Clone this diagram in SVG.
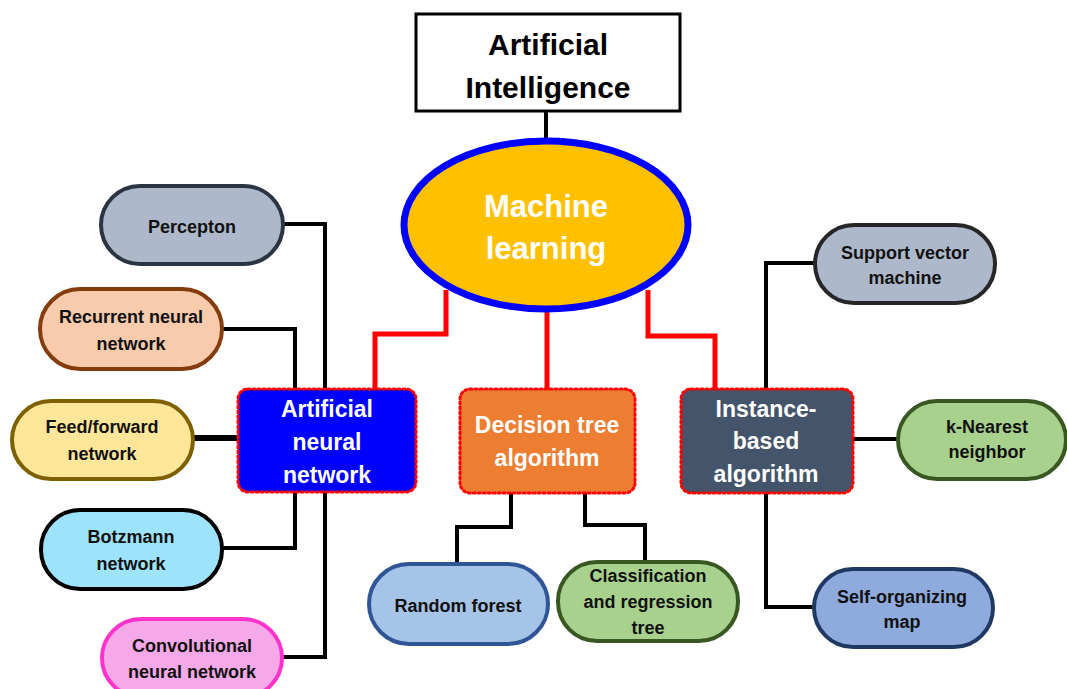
<svg xmlns="http://www.w3.org/2000/svg" width="1067" height="689" viewBox="0 0 1067 689">
<style>
text{font-family:"Liberation Sans",Arial,sans-serif;font-weight:bold;text-anchor:middle}
.leaf{font-size:18px;fill:#111}
.mid{font-size:23px;fill:#fff}
.pill{stroke-width:4}
.box{stroke:#ff0000;stroke-width:3;stroke-dasharray:2 3;stroke-linecap:round}
.blk{fill:none;stroke:#000;stroke-width:4}
.red{fill:none;stroke:#ff0000;stroke-width:5}
</style>
<rect width="1067" height="689" fill="#fff"/>
<g id="connectors">
<line class="blk" x1="546" y1="112" x2="546" y2="142"/>
<polyline class="red" points="446,290 446,334 375,334 375,390"/>
<line class="red" x1="547" y1="310" x2="547" y2="390"/>
<polyline class="red" points="648,290 648,336 715,336 715,390"/>
<polyline class="blk" points="283,224 325,224 325,390"/>
<polyline class="blk" points="222,329 295,329 295,390"/>
<line class="blk" x1="193" y1="438" x2="238" y2="438" style="stroke-width:6"/>
<polyline class="blk" points="222,548 295,548 295,491"/>
<polyline class="blk" points="282,657 325,657 325,491"/>
<polyline class="blk" points="511,492 511,527 457,527 457,564"/>
<polyline class="blk" points="585,492 585,525 645,525 645,562"/>
<polyline class="blk" points="815,263 766,263 766,390"/>
<line class="blk" x1="852" y1="439" x2="898" y2="439"/>
<polyline class="blk" points="766,492 766,607 814,607"/>
</g>
<g id="ai">
<rect x="416" y="14" width="264" height="97" fill="#fff" stroke="#000" stroke-width="3"/>
<text x="548" y="55" style="font-size:30px;fill:#000">Artificial</text>
<text x="548" y="98" style="font-size:30px;fill:#000">Intelligence</text>
</g>
<g id="ml">
<ellipse cx="546" cy="225" rx="142" ry="84" fill="#ffc000" stroke="#0000ff" stroke-width="7"/>
<text x="546" y="217" style="font-size:31px;fill:#fff">Machine</text>
<text x="546" y="259" style="font-size:31px;fill:#fff">learning</text>
</g>
<g id="ann">
<rect class="box" x="238" y="389" width="178" height="103" rx="10" fill="#0000ff"/>
<text class="mid" x="327" y="417">Artificial</text>
<text class="mid" x="327" y="450">neural</text>
<text class="mid" x="327" y="483">network</text>
</g>
<g id="dt">
<rect class="box" x="460" y="389" width="175" height="104" rx="10" fill="#ed7d31"/>
<text class="mid" x="547" y="433">Decision tree</text>
<text class="mid" x="547" y="466">algorithm</text>
</g>
<g id="ib">
<rect class="box" x="681" y="389" width="172" height="104" rx="10" fill="#44546a"/>
<text class="mid" x="766" y="417">Instance-</text>
<text class="mid" x="766" y="449">based</text>
<text class="mid" x="766" y="482">algorithm</text>
</g>
<g id="perceptron">
<rect class="pill" x="101" y="186" width="182" height="78" rx="39" fill="#adb9ca" stroke="#2b3442"/>
<text class="leaf" x="192" y="233">Percepton</text>
</g>
<g id="rnn">
<rect class="pill" x="40" y="289" width="182" height="80" rx="40" fill="#f8cbad" stroke="#843c0c"/>
<text class="leaf" x="131" y="323">Recurrent neural</text>
<text class="leaf" x="131" y="350">network</text>
</g>
<g id="ffn">
<rect class="pill" x="12" y="401" width="181" height="78" rx="39" fill="#ffe699" stroke="#7f6000"/>
<text class="leaf" x="102" y="433">Feed/forward</text>
<text class="leaf" x="102" y="460">network</text>
</g>
<g id="botzmann">
<rect class="pill" x="41" y="510" width="181" height="79" rx="39" fill="#9de3fb" stroke="#000"/>
<text class="leaf" x="131" y="543">Botzmann</text>
<text class="leaf" x="131" y="570">network</text>
</g>
<g id="cnn">
<rect class="pill" x="102" y="619" width="180" height="78" rx="39" fill="#f6a9e8" stroke="#ff33cc"/>
<text class="leaf" x="192" y="652">Convolutional</text>
<text class="leaf" x="192" y="678">neural network</text>
</g>
<g id="rf">
<rect class="pill" x="369" y="564" width="179" height="80" rx="40" fill="#a6c3e8" stroke="#2f5597"/>
<text class="leaf" x="458" y="612">Random forest</text>
</g>
<g id="cart">
<rect class="pill" x="558" y="562" width="180" height="79" rx="39" fill="#a9d18e" stroke="#385723"/>
<text class="leaf" x="648" y="582">Classification</text>
<text class="leaf" x="648" y="608">and regression</text>
<text class="leaf" x="648" y="634">tree</text>
</g>
<g id="svm">
<rect class="pill" x="815" y="225" width="180" height="78" rx="39" fill="#adb9ca" stroke="#262626"/>
<text class="leaf" x="905" y="259">Support vector</text>
<text class="leaf" x="905" y="284">machine</text>
</g>
<g id="knn">
<rect class="pill" x="898" y="401" width="168" height="78" rx="39" fill="#a9d18e" stroke="#385723"/>
<text class="leaf" x="987" y="433">k-Nearest</text>
<text class="leaf" x="987" y="458">neighbor</text>
</g>
<g id="som">
<rect class="pill" x="814" y="569" width="179" height="78" rx="39" fill="#8faadc" stroke="#203864"/>
<text class="leaf" x="902" y="603">Self-organizing</text>
<text class="leaf" x="902" y="628">map</text>
</g>
</svg>
